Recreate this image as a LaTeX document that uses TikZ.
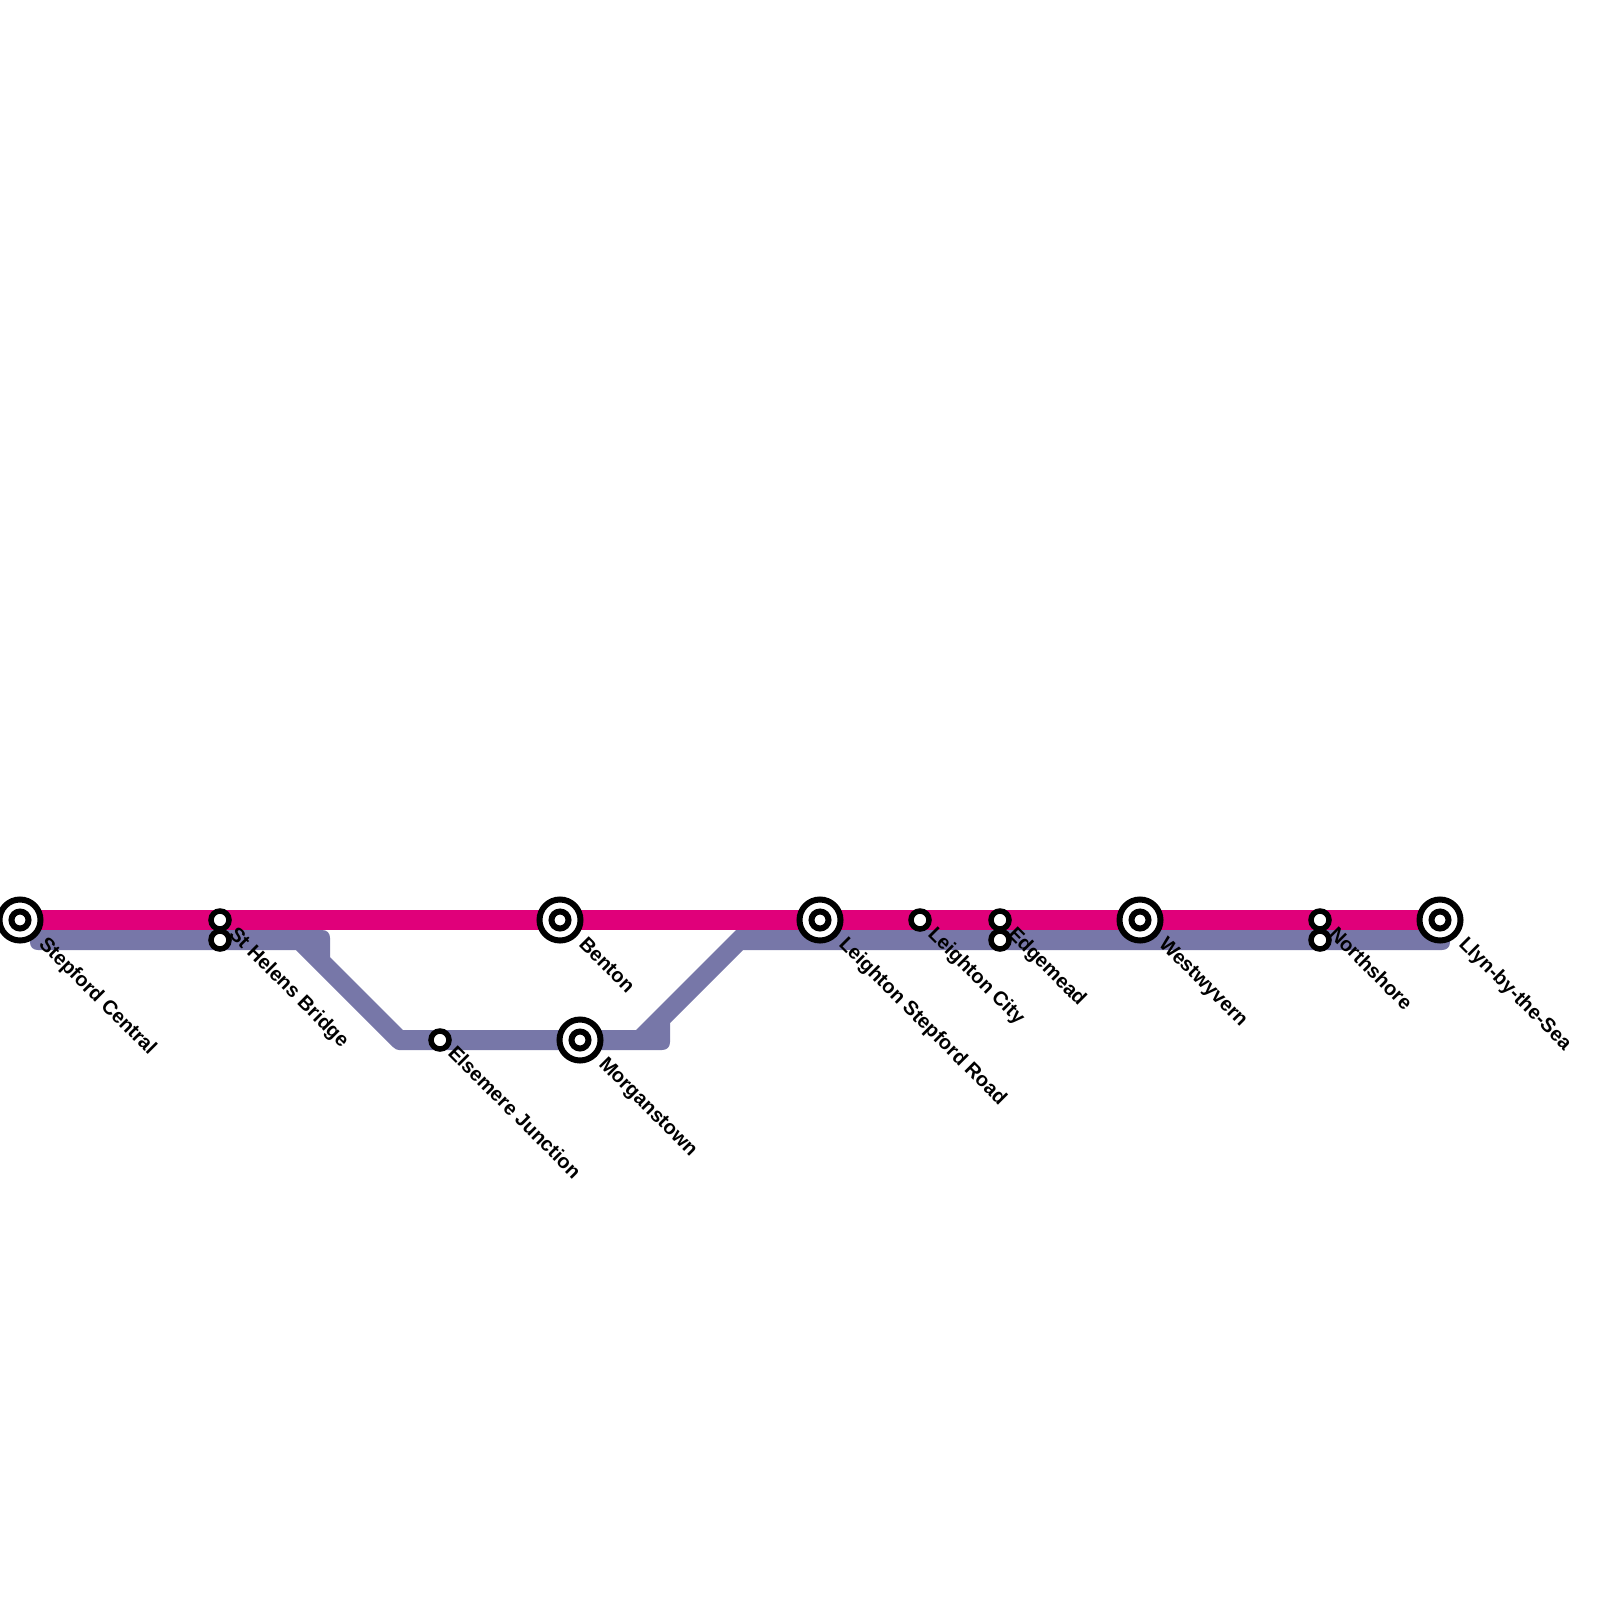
\documentclass[tikz,border=0pt]{standalone}
\usepackage{fontspec}
\setmainfont{Liberation Sans}
\definecolor{pinkline}{HTML}{E0007A}
\definecolor{purpleline}{HTML}{7777A8}
\tikzset{
  x=1pt,y=-1pt,
  bigring/.style={circle,draw=black,line width=6pt,fill=white,minimum size=41pt,inner sep=0pt,outer sep=0pt},
  bigdot/.style={circle,draw=black,line width=6pt,fill=white,minimum size=17pt,inner sep=0pt,outer sep=0pt},
  smallst/.style={circle,draw=black,line width=5.5pt,fill=white,minimum size=18pt,inner sep=0pt,outer sep=0pt},
  stlabel/.style={rotate=-45,anchor=base west,inner sep=0pt,outer sep=0pt,font=\bfseries\fontsize{20}{22}\selectfont,text=black},
}
\newcommand{\bigstation}[3]{%
  \node[bigring] (#1) at (#2,#3) {};
  \node[bigdot] (#1i) at (#2,#3) {};
}
\begin{document}
\begin{tikzpicture}
\useasboundingbox (0,0) rectangle (1600,1600);
\coordinate (pinkA) at (20,920);
\coordinate (pinkB) at (1440,920);
% purple line
\fill[purpleline]
  (1450,930) -- (1450,942) .. controls (1450,947) and (1447,950) .. (1442,950)
  -- (743,950) -- (670,1023) -- (670,1042) .. controls (670,1047) and (667,1050) .. (662,1050)
  -- (399,1050) .. controls (397,1050) and (395,1049) .. (393,1047)
  -- (296,950) -- (38,950) .. controls (33,950) and (30,947) .. (30,942)
  -- (30,930) -- (322,930) .. controls (327,930) and (330,933) .. (330,938)
  -- (330,957) -- (403,1030) -- (636,1030) -- (736,930) -- cycle;
% pink line
\draw[pinkline,line width=20pt] (pinkA) -- (pinkB);
% stations
\bigstation{stepford}{20}{920}
\node[smallst] (helensA) at (220,920) {};
\node[smallst] (helensB) at (220,940) {};
\node[smallst] (elsemere) at (440,1040) {};
\bigstation{benton}{560}{920}
\bigstation{morgans}{580}{1040}
\bigstation{lstepford}{820}{920}
\node[smallst] (lcity) at (920,920) {};
\node[smallst] (edgeA) at (1000,920) {};
\node[smallst] (edgeB) at (1000,940) {};
\bigstation{westw}{1140}{920}
\node[smallst] (northA) at (1320,920) {};
\node[smallst] (northB) at (1320,940) {};
\bigstation{llyn}{1440}{920}
% labels
\node[stlabel] (l1) at (38,945) {Stepford Central};
\node[stlabel] (l2) at (228,935) {St Helens Bridge};
\node[stlabel] (l3) at (447,1054) {Elsemere Junction};
\node[stlabel] (l4) at (578,945) {Benton};
\node[stlabel] (l5) at (598,1065) {Morganstown};
\node[stlabel] (l6) at (838,945) {Leighton Stepford Road};
\node[stlabel] (l7) at (927,935) {Leighton City};
\node[stlabel] (l8) at (1007,935) {Edgemead};
\node[stlabel] (l9) at (1158,945) {Westwyvern};
\node[stlabel] (l10) at (1328,935) {Northshore};
\node[stlabel] (l11) at (1458,945) {Llyn-by-the-Sea};
\end{tikzpicture}
\end{document}
